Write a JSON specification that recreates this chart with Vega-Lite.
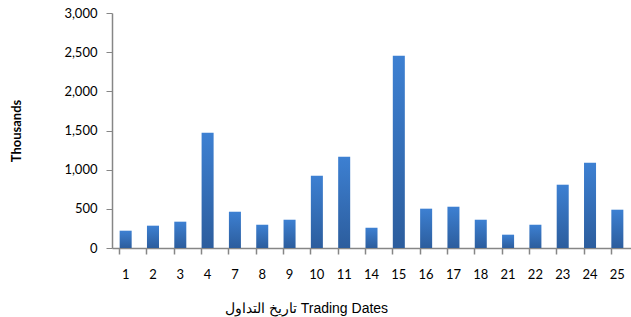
{
  "$schema": "https://vega.github.io/schema/vega-lite/v6.json",
  "autosize": "none",
  "width": 519,
  "height": 235,
  "padding": {"left": 112, "top": 13, "right": 0, "bottom": 69},
  "background": "white",
  "config": {"view": {"stroke": null}},
  "data": {
    "values": [
      {"date": "1", "value": 221},
      {"date": "2", "value": 285},
      {"date": "3", "value": 336},
      {"date": "4", "value": 1472},
      {"date": "7", "value": 463},
      {"date": "8", "value": 297},
      {"date": "9", "value": 361},
      {"date": "10", "value": 923},
      {"date": "11", "value": 1166},
      {"date": "14", "value": 259},
      {"date": "15", "value": 2455},
      {"date": "16", "value": 502},
      {"date": "17", "value": 527},
      {"date": "18", "value": 361},
      {"date": "21", "value": 170},
      {"date": "22", "value": 297},
      {"date": "23", "value": 808},
      {"date": "24", "value": 1089},
      {"date": "25", "value": 489}
    ]
  },
  "mark": {
    "type": "bar",
    "color": {
      "gradient": "linear",
      "x1": 0, "y1": 0, "x2": 0, "y2": 1,
      "stops": [
        {"offset": 0, "color": "#3d80d2"},
        {"offset": 1, "color": "#2c5d9d"}
      ]
    }
  },
  "encoding": {
    "x": {
      "field": "date",
      "type": "ordinal",
      "sort": null,
      "scale": {"paddingInner": 0.56, "paddingOuter": 0.28},
      "axis": {
        "title": "تاريخ التداول Trading Dates",
        "titleFont": "Liberation Sans",
        "titleFontSize": 14,
        "titleFontWeight": "normal",
        "titleColor": "#000000",
        "titleX": 194,
        "titleY": 60,
        "titleAlign": "center",
        "titleBaseline": "middle",
        "labelAngle": 0,
        "labelFont": "Lato",
        "labelFontSize": 13,
        "labelColor": "#000000",
        "labelPadding": 14,
        "bandPosition": 0,
        "domainColor": "#868686",
        "domainWidth": 1.5,
        "tickColor": "#868686",
        "tickSize": 6,
        "tickWidth": 1.5,
        "grid": false
      }
    },
    "y": {
      "field": "value",
      "type": "quantitative",
      "scale": {"domain": [0, 3000], "nice": false},
      "axis": {
        "title": "Thousands",
        "titleFont": "Lato",
        "titleFontSize": 13,
        "titleFontWeight": "bold",
        "titleColor": "#000000",
        "titlePadding": 40,
        "values": [0, 500, 1000, 1500, 2000, 2500, 3000],
        "format": ",.0f",
        "labelFont": "Lato",
        "labelFontSize": 13,
        "labelColor": "#000000",
        "labelPadding": 9,
        "domainColor": "#868686",
        "domainWidth": 1.5,
        "tickColor": "#868686",
        "tickSize": 6,
        "tickWidth": 1,
        "grid": false
      }
    }
  }
}
